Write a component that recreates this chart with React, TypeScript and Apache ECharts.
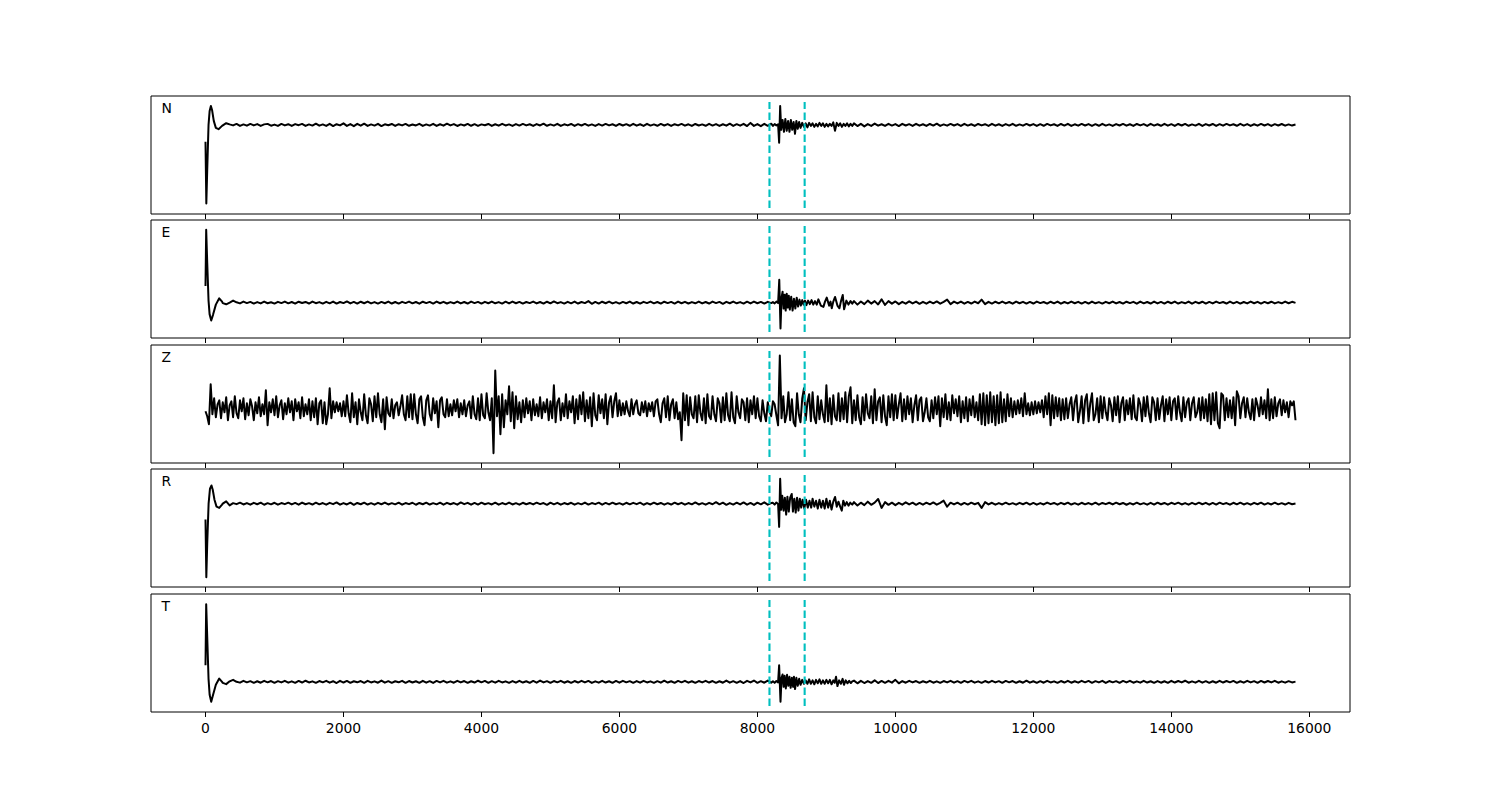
import React, { useEffect, useRef } from "react";
import * as echarts from "echarts";

// ---- axis / layout data ----
const X_MIN = -790;
const X_MAX = 16590;
const xTickValues = [0, 2000, 4000, 6000, 8000, 10000, 12000, 14000, 16000];
const channelNames = ["N", "E", "Z", "R", "T"];
const pickTimes = [8175, 8685];
// y limits per channel (amplitude units)
const yLimits: [number, number][] = [
  [-89.5, 29],
  [-35.5, 82.9],
  [-54.9, 63.5],
  [-83.7, 34.8],
  [-30.3, 88.2],
];

// sampling of body segments
const PRE_START = 250;
const POST_START = 9400;
const STEP = 50;
const Z_STEP = 25;

// ---- N ----
const nHead: [number, number][] = [[0,-17],[12,-79],[25,-45],[44,0],[60,14],[78,19],[95,15],[120,4],[150,-3],[189,-4.3],[240,-1]];
const nPre = [
  -1,1.7,0.5,-0.5,1,-1,0.5,-0.8,1,-0.5,
  0.8,-1,0.5,1,-0.8,0.3,-1,1,-0.5,0.7,
  -1,0.8,-0.3,1,-1,0.5,-0.7,1.2,-0.8,0.5,
  -1,1,-1.2,0.7,-0.5,1.5,-1,0.8,-1.3,1,
  -0.8,1.2,-1,0.5,-0.7,1,-1.2,0.6,-0.4,0.9,
  -1,0.7,-0.5,1,-0.9,0.4,-0.6,1.1,-1,0.5,
  -0.7,1,-1,0.6,-0.8,1.2,-0.5,0.8,-1.1,0.5,
  -0.6,1,-0.9,0.7,-1,0.5,-0.4,0.9,-1,0.6,
  -0.8,1.1,-0.6,0.5,-1,0.8,-0.7,1,-0.5,0.6,
  -1,0.8,-0.6,1.2,-0.9,0.5,-0.7,1,-1.1,0.6,
  -0.5,0.9,-1,0.7,-0.6,1,-0.8,0.5,-1,0.8,
  -0.7,1,-0.5,0.6,-1,0.9,-0.6,0.7,-0.9,1,
  -0.8,0.6,-1,1.1,-0.7,0.5,-0.9,1,-0.6,0.8,
  -1,0.7,-0.5,1,-0.8,0.6,-1.1,0.9,-0.6,0.5,
  -0.9,1,-0.7,0.8,-1,0.6,-0.8,1.2,-1,0.7,
  -0.8,1,-1.2,2,-1,0.8,-1.3,1,-0.9,1.2,
];
const nEvent: [number, number][] = [
  [8225,-1],[8250,0.8],[8275,-0.5],[8300,0.5],[8315,-18],[8330,19],[8345,-5],[8365,5],[8385,-7],[8405,6],
  [8425,-6],[8445,4],[8465,-7],[8485,5],[8505,-5],[8525,3],[8545,-9],[8565,4],[8585,-4],[8605,3],
  [8625,-3],[8650,2],[8675,-2],[8700,1.5],[8725,-2.5],[8750,2],[8775,-1],[8800,1.5],[8825,-2],[8850,1],
  [8875,-1.5],[8900,2],[8925,-1],[8950,1.5],[8975,-2],[9000,1],[9025,-1.5],[9050,1],[9075,-1],[9100,2.5],
  [9125,-6],[9150,2],[9175,-1],[9200,1.5],[9225,-2],[9250,1],[9275,-1],[9300,1.5],[9325,-1.5],[9350,1],[9375,-1],
];
const nPost = [
  1.5,-1.2,1,-1.5,0.8,-1,1.3,-0.8,0.6,-1,
  1,-0.7,0.8,-1.2,1,-0.6,0.7,-1,1.1,-0.8,
  0.6,-1,0.9,-0.7,1.2,-1,0.5,-0.8,1,-0.6,
  0.8,-1.1,1,-0.7,0.6,-1,0.9,-0.5,0.7,-1,
  1,-0.8,0.6,-1,0.8,-0.7,1.1,-0.9,0.5,-0.8,
  1,-0.6,0.8,-1,0.7,-0.9,1,-0.5,0.6,-1,
  0.9,-0.7,1,-1.1,0.6,-0.8,1,-0.6,0.8,-1,
  0.7,-0.9,1.1,-0.7,0.5,-1,0.8,-0.6,1,-0.8,
  0.6,-1,0.9,-0.5,0.8,-1.1,1,-0.7,0.6,-0.9,
  1,-0.8,0.7,-1,0.9,-0.6,1,-0.9,0.5,-0.7,
  1.1,-1,0.8,-0.6,0.9,-1,0.7,-0.8,1,-0.5,
  0.6,-0.9,1,-0.7,0.8,-1,0.6,-0.8,1,-0.6,
  0.8,-1,0.7,-0.6,0.9,-0.8,0.5,-0.7,0.3,
];

// ---- E ----
const eHead: [number, number][] = [[0,16.6],[10,73],[25,40],[44,2],[60,-12],[83,-18],[110,-12],[150,-2],[199,4.3],[240,1]];
const ePre = [
  -0.5,-1.7,0,2,0.3,-0.8,1,-0.5,0.7,-1,
  0.5,-0.8,1,-0.6,0.4,-1,0.8,-0.5,1,-0.7,
  0.6,-1,0.9,-0.4,0.7,-0.9,1.1,-0.6,0.5,-1,
  0.8,-0.7,1,-1,0.6,-0.5,1.2,-0.8,0.7,-1,
  0.9,-0.6,1,-0.8,0.5,-1,0.7,-0.6,1,-0.9,
  0.6,-1,0.8,-0.5,1,-0.7,0.6,-1.1,0.9,-0.5,
  0.7,-1,1,-0.6,0.8,-0.9,0.5,-0.7,1.1,-0.8,
  0.6,-0.9,1,-0.5,0.7,-1,0.8,-0.6,1,-0.7,
  0.5,-1,0.9,-0.8,1,-0.6,0.7,-1,0.6,-0.5,
  1,-0.8,0.6,-1,0.9,-0.7,1.2,-0.6,0.5,-1,
  0.8,-0.7,1,-0.9,0.6,-0.5,1.5,-1.2,0.7,-1,
  0.9,-0.6,1,-0.8,0.5,-1,0.7,-0.6,1,-0.9,
  0.6,-1,0.8,-0.5,1,-0.7,0.6,-1,0.9,-0.5,
  0.7,-1,1,-0.6,0.8,-0.9,0.5,-0.7,1,-0.8,
  0.6,-0.9,1,-0.5,0.7,-1.2,0.8,-0.6,1,-0.7,
  0.5,-1,0.9,-0.8,1,-0.6,0.7,-1,0.8,-0.5,
];
const eEvent: [number, number][] = [
  [8225,0.5],[8250,-0.8],[8275,1],[8300,-0.5],[8317,23],[8335,-26],[8350,5],[8365,11],[8380,-6],[8395,8],
  [8410,-8],[8425,9],[8440,-5],[8455,7],[8470,-7],[8490,6],[8510,-8],[8530,4],[8550,-6],[8570,5],
  [8590,-4],[8610,3],[8630,-3],[8650,2.5],[8670,-2],[8690,2],[8710,-2.5],[8735,2],[8760,-1.5],[8785,2.5],
  [8810,-2],[8835,1.5],[8860,-2],[8884,3.3],[8920,-3],[8957,-4.3],[8980,1],[9005,5],[9040,-3],[9060,1],
  [9078,-5.7],[9100,1],[9126,5.7],[9160,-3],[9189,-5.7],[9210,1],[9237,7.7],[9257,-6.7],[9290,2],[9320,-2],
  [9350,1.5],[9375,-1],
];
const ePost = [
  1.5,-2,1.2,-1.5,2,-1,1.5,-1.8,3.3,-2.3,
  1.5,-1,1.2,-1.5,0.8,-1,1.3,-0.8,1,-1.2,
  0.8,-1,1,-0.7,1.2,-1,0.8,3,-1.5,1,
  -0.8,1,-1.1,0.7,-0.9,1,-0.6,3,-1.5,0.8,
  -1,0.9,-0.7,1,-0.8,0.6,-1.1,1,-0.6,0.8,
  -1,0.7,-0.9,1,-0.5,0.6,-1,0.9,-0.7,1,
  -1.1,0.6,-0.8,1,-0.6,0.8,-1,0.7,-0.9,1.1,
  -0.7,0.5,-1,0.8,-0.6,1,-0.8,0.6,-1,0.9,
  -0.5,0.8,-1.1,1,-0.7,0.6,-0.9,1,-0.8,0.7,
  -1,0.9,-0.6,1,-0.9,0.5,-0.7,1.1,-1,0.8,
  -0.6,0.9,-1,0.7,-0.8,1,-0.5,0.6,-0.9,1,
  -0.7,0.8,-1,0.6,-0.8,1,-0.6,0.8,-1,0.7,
  -0.6,0.9,-0.8,0.5,-0.7,1,-0.6,0.8,-0.3,
];

// ---- Z (one value every 25 samples, t = 0 .. 15800) ----
const zValues = [
  -3,-8,-16,24,-6,10,-9,4,8,-10,6,-4,11,-12,3,7,-9,12,-5,-10,
  8,-3,10,-11,5,-7,9,2,-12,6,-5,11,-8,4,-6,18,-17,6,-4,9,
  -7,12,-9,3,8,-11,5,-6,10,-4,7,-12,9,-3,6,-10,11,-8,4,-6,
  9,-12,7,-9,10,-16,5,8,-15,6,-16,-6,20,-10,7,-4,6,-3,5,-8,
  7,-8,13,-5,-14,15,-9,6,-16,9,-4,-12,14,-7,-15,10,4,-13,12,-9,
  15,-6,-14,9,-21,11,-5,-8,9,-10,3,6,-7,2,13,-6,-12,12,-9,14,
  -11,14,-6,-15,9,12,-9,-17,8,13,-6,-12,10,-5,7,-19,8,11,-6,-9,
  9,-8,4,-7,8,-3,9,-9,5,-6,8,-8,3,7,-10,12,-6,-11,10,-12,
  14,-7,-10,15,-4,-12,10,-45,38,-8,12,-26,14,-19,8,-6,22,-13,16,-20,
  12,-11,6,-14,8,-9,10,-5,7,-12,9,-7,4,-8,11,-10,6,-4,9,-12,
  7,-10,23,-14,6,10,-12,5,-8,14,-10,7,-4,12,-15,9,-11,13,-6,16,
  -13,8,-10,11,-18,15,-7,-12,13,-5,9,-10,14,-16,6,12,-9,7,15,-8,
  8,-7,5,-6,7,-3,-8,9,-6,4,8,-5,-7,6,-4,7,-8,5,-3,6,
  -8,7,9,-6,-14,5,10,-9,12,-12,4,9,-10,6,-11,-4,-32,15,-12,13,
  -17,11,-6,-10,12,-14,13,-5,-12,10,-15,14,-8,-11,12,-6,-13,10,5,-14,
  11,-12,15,-7,-13,16,-9,-15,12,-4,-10,9,6,-12,10,-14,8,-6,12,-10,
  10,-8,-13,8,-5,-13,6,-3,-8,7,4,-7,-17,53,-10,12,-14,-6,16,-12,
  9,-14,-18,15,-6,-14,10,20,-12,6,14,-13,16,-9,-15,12,-11,8,-6,-14,
  23,-13,10,-16,13,-8,-12,15,-13,10,-11,16,-14,12,21,-15,8,-12,13,-9,
  -16,11,-12,14,-5,-10,12,-15,19,-12,7,11,-14,13,-8,-17,12,-9,14,-12,
  13,-10,4,15,-13,9,-11,12,-6,10,-14,3,13,-12,8,11,-13,-4,10,-9,
  -13,8,-10,11,-6,12,-18,10,-9,14,-11,6,-12,13,-5,9,-8,12,-14,7,
  -10,11,-13,9,-7,12,-9,6,-12,14,-16,15,-17,13,-15,16,-14,12,-17,13,
  -15,16,-14,9,-13,14,-8,10,-9,7,-6,8,-5,10,-8,15,-6,5,-7,6,
  -6,7,-5,6,-4,8,-9,12,-6,15,-17,13,-10,11,-8,10,-12,9,-11,10,
  -10,4,11,-12,6,13,-14,-3,12,-15,8,14,-13,5,15,-12,-6,10,-14,12,
  -10,11,-4,-12,10,3,-13,11,-7,12,-14,5,11,-12,8,-6,10,-11,13,-9,
  -12,10,4,-13,11,-8,12,-5,-14,11,6,-12,10,-11,3,12,-13,9,-6,11,
  -12,7,10,-11,12,-4,-13,11,-9,6,10,-12,5,11,-9,-4,10,-12,11,-10,
  9,-13,14,-16,15,-12,16,-15,-20,15,13,-12,10,-9,8,-10,11,-17,17,12,
  -10,5,11,-9,10,-4,-11,9,-12,10,3,-8,11,-6,8,-10,19,-12,9,-10,
  11,-8,5,9,-7,8,-4,6,-9,7,3,7,-12,
];

// ---- R ----
const rHead: [number, number][] = [[0,-16],[12,-74],[25,-40],[45,0],[65,15],[87,18.3],[105,14],[130,4],[160,-3],[199,-4.3],[240,-1]];
const rPre = [
  0,2.3,-1.7,0.5,-0.5,1,-0.8,0.6,-1,0.8,
  -0.6,1,-1.1,0.5,-0.7,0.9,-1,0.6,-0.5,1,
  -0.8,0.7,-1,1.1,-0.6,0.5,-0.9,1,-0.7,0.6,
  -1,0.8,-0.5,1.2,-1,0.6,-0.8,1,-1.2,0.7,
  -0.6,1,-0.9,0.5,-1,0.8,-0.6,1.1,-0.8,0.5,
  -0.7,1,-1,0.6,-0.5,0.9,-1.1,0.7,-0.6,1,
  -0.9,0.5,-0.7,1,-1,0.8,-0.6,0.6,-1,1.2,
  -0.5,0.8,-1,0.7,-0.9,1,-0.6,0.5,-0.8,1,
  -1,0.6,-0.7,1.1,-0.8,0.5,-1,0.9,-0.6,0.7,
  -0.8,1,-0.5,0.6,-1.2,1,-0.7,0.8,-1,0.6,
  -0.6,0.9,-1,0.5,-0.7,1.1,-0.9,0.6,-0.5,1,
  -1,0.7,-0.8,1,-0.6,0.5,-1,0.9,-0.7,0.8,
  -0.5,1,-1.1,0.6,-0.8,1,-0.6,0.7,-1,0.5,
  -0.9,1,-0.6,0.8,-1,0.6,-0.7,1.2,-0.8,0.5,
  -1,0.8,-0.6,1.5,-0.7,1,-1.2,0.6,-0.9,1,
  -0.8,1.2,-1,0.7,-1.3,1,-0.7,1.3,-1,0.6,
];
const rEvent: [number, number][] = [
  [8225,0.8],[8250,-1],[8275,1.2],[8300,-0.5],[8315,-23.3],[8330,25],[8345,-6],[8360,8],[8380,-7],[8398,6],
  [8417,-11],[8435,7],[8455,-8],[8475,6],[8498,9.7],[8515,-8],[8535,5],[8555,-9],[8575,6],[8595,-7],
  [8615,5],[8635,-4],[8655,4],[8680,-5],[8705,4],[8730,-4],[8755,3],[8780,-4],[8800,5],[8825,-3],
  [8850,3],[8875,-5],[8900,4],[8925,-4],[8950,3],[8975,-5],[9000,5],[9025,-4],[9050,3],[9075,-6],
  [9100,2],[9126,6.7],[9150,-3],[9175,2],[9200,-3],[9223,-7],[9245,3],[9270,-2],[9295,1.5],[9320,-2],
  [9345,1],[9375,-1],
];
const rPost = [
  1.5,-1.8,1,-1.5,2,-1.2,1,4.7,-4.3,1.5,
  -1.2,1,-1.5,0.8,-1,1.3,-0.8,1,-1.2,0.7,
  -1,1,-0.7,1.2,-1,0.8,3,-3,1,-0.8,
  1,-1.1,0.7,-0.9,1,-0.6,0.8,-4.3,1.5,-0.8,
  0.9,-1,0.6,-0.8,1,-0.7,0.5,-1,0.8,-0.6,
  1,-0.9,0.7,-1,0.6,-0.8,1.1,-0.5,0.7,-1,
  0.8,-0.6,1,-0.9,0.5,-1,0.9,-0.7,0.6,-0.8,
  1,-1,0.7,-0.5,0.9,-0.8,1,-0.6,0.7,-1.1,
  0.6,-0.8,1,-0.7,0.5,-1,0.8,-0.9,1,-0.6,
  0.7,-1,0.9,-0.5,1,-0.8,0.6,-1,0.8,-0.7,
  1,-0.6,0.8,-1,0.7,-0.9,1,-0.5,0.6,-1,
  0.9,-0.7,1,-0.8,0.5,-1,0.8,-0.6,1,-0.9,
  0.6,-0.8,1,-0.7,0.5,-0.9,0.8,-0.6,0.2,
];

// ---- T ----
const tHead: [number, number][] = [[0,16.7],[10,78],[25,45],[44,3],[60,-13],[83,-20],[110,-13],[150,-3],[199,3.3],[240,0]];
const tPre = [
  -1,-2.3,0.5,2,0,-0.8,1,-0.5,0.7,-1,
  0.6,-0.9,1,-0.5,0.8,-1,0.7,-0.6,1,-0.8,
  0.5,-1,0.9,-0.7,1.1,-0.6,0.5,-1,0.8,-0.5,
  1,-0.8,0.6,-1.2,1,-0.7,0.9,-1,0.6,-0.5,
  0.8,-1,1,-0.6,0.5,-0.9,1.2,-0.8,0.7,-1,
  0.6,-0.5,1,-1,0.8,-0.7,0.6,-1,1,-0.8,
  0.7,-1.1,0.9,-0.6,1,-0.8,0.5,-0.9,1,-0.6,
  0.8,-1,0.6,-0.7,1.1,-0.5,0.9,-1,0.7,-0.8,
  1,-0.6,0.5,-1,0.8,-0.9,1,-0.7,0.6,-1,
  0.9,-0.8,1.2,-0.6,0.7,-1,0.8,-0.5,1,-0.9,
  0.6,-1,0.8,-0.7,1,-0.6,0.9,-1.1,0.5,-0.8,
  1,-0.7,0.6,-1,0.9,-0.8,1,-0.5,0.7,-1,
  0.8,-0.9,1,-0.6,0.5,-1,0.7,-0.8,1.1,-0.7,
  0.6,-1,0.9,-0.5,1,-0.8,0.6,-1,0.8,-0.6,
  1,-0.7,0.8,-1,0.6,-0.9,1.2,-0.8,0.7,-1,
  0.8,-1.2,1,-0.6,1.3,-1,0.7,-0.9,1.2,-0.8,
];
const tEvent: [number, number][] = [
  [8225,0.5],[8250,-1],[8275,0.8],[8300,-0.5],[8315,16.7],[8335,-20],[8350,4],[8365,7.3],[8380,-5],[8395,6],
  [8412,-6.7],[8430,7],[8448,-4],[8465,5],[8482,-6],[8500,4],[8518,-5],[8530,5],[8546,-7.3],[8565,4],
  [8585,-4],[8605,3],[8625,-3],[8650,2],[8675,-2],[8700,1.5],[8725,-2],[8750,2.5],[8775,-2],[8800,1.5],
  [8825,-2.5],[8850,2],[8875,-1.5],[8900,2.5],[8925,-2],[8950,1.5],[8975,-2],[9000,2],[9025,-1.5],[9050,2],
  [9075,-2.5],[9100,1.5],[9120,-1],[9140,5],[9160,-4.3],[9185,1.5],[9210,-2],[9235,3],[9255,-3],[9280,1.5],
  [9305,-1.5],[9330,1],[9355,-1.2],[9375,0.5],
];
const tPost = [
  1.2,-1.5,1,-1.2,0.8,-1,1.5,-1.2,0.9,-1,
  1,-0.8,2,-1.5,0.7,-0.9,1,-0.6,0.8,-1,
  0.6,-0.7,1,-0.9,0.5,-1,0.8,-0.6,1,-0.8,
  0.7,-1,0.9,-0.6,1,-0.8,0.5,-1,0.8,-0.7,
  1,-0.6,0.7,-1,0.9,-0.5,0.8,-1,0.6,-0.9,
  1.1,-0.8,0.6,-1,0.7,-0.9,1,-0.6,0.5,-1,
  0.8,-0.7,1,-0.9,0.6,-0.8,1,-0.5,0.9,-1,
  0.7,-0.6,1,-1.1,0.8,-0.5,0.7,-1,0.9,-0.6,
  1,-0.9,0.5,-0.8,1,-0.7,0.6,-1,0.8,-0.9,
  0.6,-1,1,-0.7,0.8,-0.6,1.1,-0.9,0.5,-0.8,
  1,-0.8,0.7,-1,0.6,-0.9,1,-0.7,0.8,-0.5,
  0.9,-1,0.6,-0.8,1,-0.6,0.7,-1,0.9,-0.7,
  0.8,-0.6,1,-0.9,0.5,-0.8,0.7,-0.6,0.2,
];

function buildTrace(head: [number, number][], pre: number[], event: [number, number][], post: number[]) {
  const pts: [number, number][] = [...head];
  pre.forEach((v, i) => pts.push([PRE_START + STEP * i, v]));
  event.forEach((p) => pts.push(p));
  post.forEach((v, i) => pts.push([POST_START + STEP * i, v]));
  return pts;
}

const traces: [number, number][][] = [
  buildTrace(nHead, nPre, nEvent, nPost),
  buildTrace(eHead, ePre, eEvent, ePost),
  zValues.map((v, i) => [Z_STEP * i, v] as [number, number]),
  buildTrace(rHead, rPre, rEvent, rPost),
  buildTrace(tHead, tPre, tEvent, tPost),
];

// ---- layout ----
const GRID_LEFT = 151;
const GRID_WIDTH = 1199;
const GRID_TOPS = [96, 220, 345, 469, 594];
const GRID_HEIGHT = 118;
const FONT = "DejaVu Sans";

export default function App() {
  const ref = useRef<HTMLDivElement>(null);
  useEffect(() => {
    if (!ref.current) return;
    const chart = echarts.init(ref.current, undefined, { renderer: "svg" });
    const grids = channelNames.map((_, i) => ({
      left: GRID_LEFT,
      top: GRID_TOPS[i],
      width: GRID_WIDTH,
      height: GRID_HEIGHT,
      show: true,
      borderColor: "#000",
      borderWidth: 1,
      backgroundColor: "transparent",
    }));
    const xAxes = channelNames.map((_, i) => ({
      type: "value",
      gridIndex: i,
      position: "bottom",
      min: X_MIN,
      max: X_MAX,
      axisLine: { show: false, onZero: false },
      splitLine: { show: false },
      axisTick: {
        show: true,
        customValues: xTickValues,
        length: 5,
        inside: false,
        lineStyle: { color: "#000", width: 1 },
      },
      axisLabel: {
        show: i === channelNames.length - 1,
        customValues: xTickValues,
        color: "#000",
        fontSize: 13.9,
        fontFamily: FONT,
        margin: 9,
        formatter: (v: number) => String(v),
      },
    }));
    const yAxes = channelNames.map((_, i) => ({
      type: "value",
      gridIndex: i,
      min: yLimits[i][0],
      max: yLimits[i][1],
      show: false,
    }));
    const series: any[] = [];
    traces.forEach((data, i) => {
      series.push({
        type: "line",
        xAxisIndex: i,
        yAxisIndex: i,
        data,
        symbol: "none",
        showSymbol: false,
        silent: true,
        lineStyle: { color: "#000", width: 2, join: "round" },
        z: 2,
      });
      const [lo, hi] = yLimits[i];
      const r = hi - lo;
      pickTimes.forEach((p) => {
        series.push({
          type: "line",
          xAxisIndex: i,
          yAxisIndex: i,
          data: [
            [p, lo + 0.05 * r],
            [p, hi - 0.05 * r],
          ],
          symbol: "none",
          silent: true,
          lineStyle: { color: "#00bfbf", width: 2.1, type: [7.7, 3.3] },
          z: 3,
        });
      });
    });
    const graphic = channelNames.map((name, i) => ({
      type: "text",
      x: 161.5,
      y: GRID_TOPS[i] + 12.3,
      style: {
        text: name,
        fill: "#000",
        fontSize: 13.9,
        fontFamily: FONT,
        verticalAlign: "middle",
      },
      silent: true,
    }));
    chart.setOption({
      animation: false,
      backgroundColor: "#fff",
      grid: grids,
      xAxis: xAxes,
      yAxis: yAxes,
      series,
      graphic,
    });
    return () => chart.dispose();
  }, []);
  return (
    <div
      ref={ref}
      style={{ position: "absolute", left: 0, top: 0, width: 1500, height: 800 }}
    />
  );
}
